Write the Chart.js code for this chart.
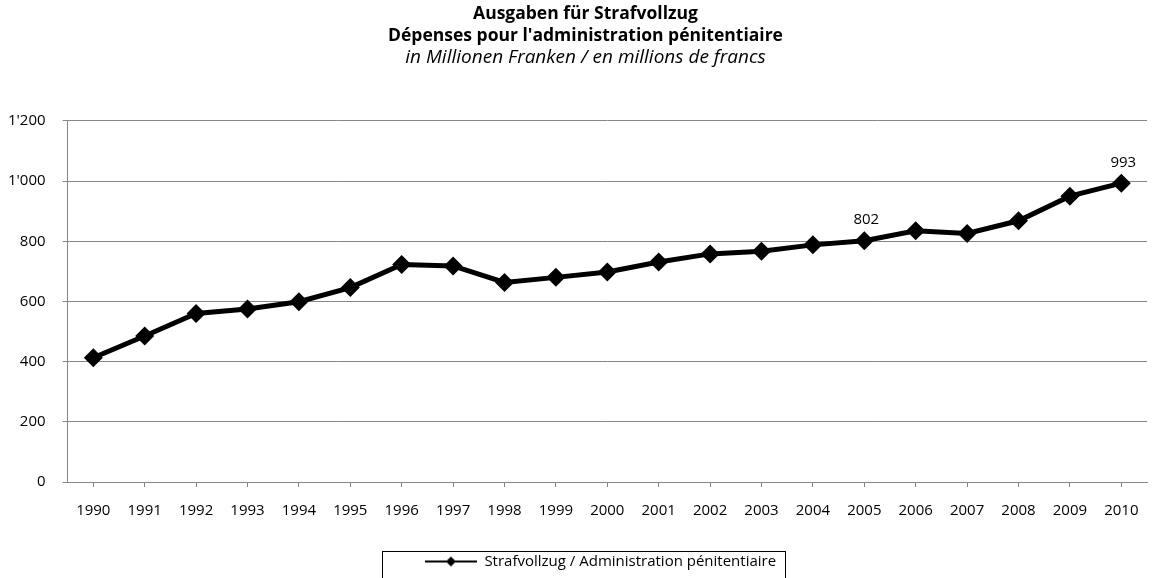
<!DOCTYPE html>
<html lang="de">
<head>
    <meta charset="UTF-8">
    <title>Ausgaben für Strafvollzug</title>
    <script src="https://cdn.jsdelivr.net/npm/chart.js"></script>
    <style>
        body {
    margin: 0;
    background: #ffffff;
}
#wrap {
    width: 1155px;
    height: 578px;
}
    </style>
</head>
<body>
    <div id="wrap"><canvas id="chart" width="1155" height="578"></canvas></div>
    <script>
// Data
const years = ["1990", "1991", "1992", "1993", "1994", "1995", "1996", "1997", "1998", "1999", "2000",
               "2001", "2002", "2003", "2004", "2005", "2006", "2007", "2008", "2009", "2010"];
const spending = [413, 485, 560, 575, 599, 646, 723, 718, 663, 680, 698,
                  731, 758, 767, 788, 802, 835, 826, 868, 950, 993];
const labelledYears = ["2005", "2010"];
const yTicks = [0, 200, 400, 600, 800, 1000, 1200];

const seriesName = "Strafvollzug / Administration pénitentiaire";
const titleLines = ["Ausgaben für Strafvollzug", "Dépenses pour l'administration pénitentiaire"];
const subtitleText = "in Millionen Franken / en millions de francs";

const FONT = "'Open Sans', 'DejaVu Sans', sans-serif";
const GRID = "#868686";

// thousands with apostrophe, like 1'200
function swissNumber(v) {
    return String(v).replace(/\B(?=(\d{3})+(?!\d))/g, "'");
}

// legend symbol: line with a diamond in the middle
function legendSymbol() {
    const c = document.createElement("canvas");
    c.width = 52;
    c.height = 12;
    const g = c.getContext("2d");
    g.strokeStyle = "#000";
    g.lineWidth = 2;
    g.beginPath();
    g.moveTo(0, 6);
    g.lineTo(52, 6);
    g.stroke();
    g.fillStyle = "#000";
    g.beginPath();
    g.moveTo(26, 1);
    g.lineTo(31, 6);
    g.lineTo(26, 11);
    g.lineTo(21, 6);
    g.closePath();
    g.fill();
    return c;
}

// titles and legend sit a bit right of the canvas centre in the original
const shiftBoxes = {
    id: "shiftBoxes",
    afterLayout(chart) {
        chart.boxes.forEach(b => {
            if (b.position === "top") {
                b.left += 8;
                b.right += 8;
            }
        });
        if (chart.legend) {
            chart.legend.left += 23;
            chart.legend.right += 23;
        }
    }
};

// value labels above selected points
const valueLabels = {
    id: "valueLabels",
    afterDatasetsDraw(chart) {
        const ctx = chart.ctx;
        const meta = chart.getDatasetMeta(0);
        ctx.save();
        ctx.font = "15px " + FONT;
        ctx.fillStyle = "#000";
        ctx.textAlign = "center";
        ctx.textBaseline = "bottom";
        meta.data.forEach((pt, i) => {
            if (labelledYears.includes(years[i])) {
                ctx.fillText(String(spending[i]), pt.x + 2, pt.y - 13);
            }
        });
        ctx.restore();
    }
};

// frame around the legend
const legendFrame = {
    id: "legendFrame",
    afterDraw(chart) {
        const lg = chart.legend;
        if (!lg || !lg.legendHitBoxes.length) return;
        const hb = lg.legendHitBoxes[0];
        const ctx = chart.ctx;
        const top = Math.round(hb.top + hb.height / 2) - 10.5;
        ctx.save();
        ctx.strokeStyle = "#000";
        ctx.lineWidth = 1;
        ctx.strokeRect(Math.round(hb.left) - 42.5, top,
                       Math.round(hb.width) + 52, 60);
        ctx.restore();
    }
};

const ctx = document.getElementById("chart").getContext("2d");
const chart = new Chart(ctx, {
    type: "line",
    data: {
        labels: years,
        datasets: [{
            label: seriesName,
            data: spending,
            borderColor: "#000",
            backgroundColor: "#000",
            borderWidth: 5,
            pointStyle: "rectRot",
            pointRadius: 9.5,
            pointBorderWidth: 0,
            pointBackgroundColor: "#000",
            tension: 0
        }]
    },
    options: {
        responsive: false,
        animation: false,
        devicePixelRatio: 1,
        layout: {
            autoPadding: false,
            padding: { left: 8, right: 8, top: 3, bottom: -1 }
        },
        plugins: {
            title: {
                display: true,
                text: titleLines,
                color: "#000",
                font: { family: FONT, size: 17.5, weight: "bold", lineHeight: 1.257 },
                padding: { top: 0, bottom: 0 }
            },
            subtitle: {
                display: true,
                text: subtitleText,
                color: "#000",
                font: { family: FONT, size: 19, style: "italic", lineHeight: 1.1 },
                padding: { top: 0, bottom: 53 }
            },
            legend: {
                position: "bottom",
                labels: {
                    usePointStyle: true,
                    pointStyle: legendSymbol(),
                    pointStyleWidth: 52,
                    color: "#000",
                    font: { family: FONT, size: 15 },
                    padding: 10
                }
            },
            tooltip: { enabled: false }
        },
        scales: {
            x: {
                offset: true,
                afterFit(scale) {
                    scale.height = 62;
                },
                grid: {
                    display: true,
                    drawOnChartArea: false,
                    drawTicks: true,
                    tickLength: 5,
                    color: GRID
                },
                border: { color: GRID, width: 1 },
                ticks: {
                    color: "#000",
                    font: { family: FONT, size: 15 },
                    padding: 15,
                    maxRotation: 0,
                    autoSkip: false
                }
            },
            y: {
                min: yTicks[0],
                max: yTicks[yTicks.length - 1],
                afterBuildTicks(scale) {
                    scale.ticks = yTicks.map(v => ({ value: v }));
                },
                afterFit(scale) {
                    // Chart.js reserves the tick padding twice; keep it once
                    scale.width -= scale.options.ticks.padding;
                },
                grid: {
                    color: GRID,
                    lineWidth: 1,
                    tickLength: 5
                },
                border: { color: GRID, width: 1 },
                ticks: {
                    color: "#000",
                    font: { family: FONT, size: 15 },
                    padding: 17,
                    callback: v => swissNumber(v)
                }
            }
        }
    },
    plugins: [shiftBoxes, valueLabels, legendFrame]
});
    </script>
</body>
</html>
